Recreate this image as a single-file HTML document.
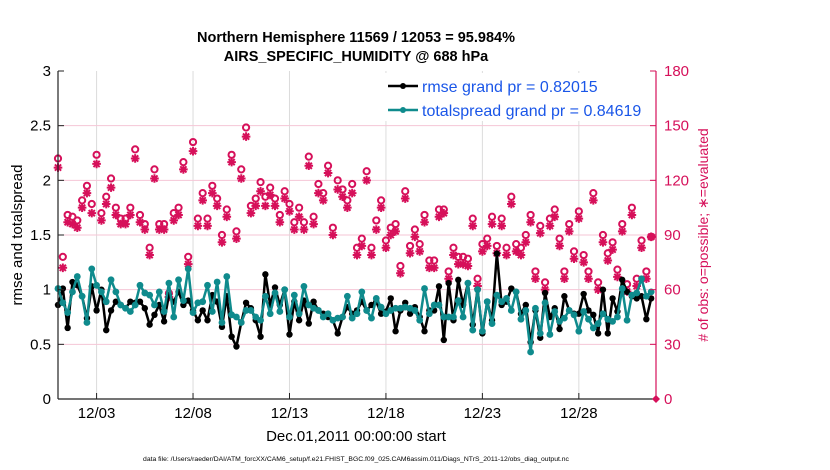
<!DOCTYPE html>
<html><head><meta charset="utf-8"><style>
body{margin:0;background:#fff;}
svg{display:block;font-family:"Liberation Sans",Arial,sans-serif;}
</style></head><body>
<svg id="chart" width="830" height="470" viewBox="0 0 830 470">
<rect width="830" height="470" fill="#fff"/>
<text x="356" y="42" text-anchor="middle" font-size="14.5" font-weight="bold">Northern Hemisphere 11569 / 12053 = 95.984%</text>
<text x="356" y="61" text-anchor="middle" font-size="14.5" font-weight="bold">AIRS_SPECIFIC_HUMIDITY @ 688 hPa</text>
<g id="grid"></g>
<g id="series"></g>
<g id="axes"></g>
<text transform="translate(22,235) rotate(-90)" text-anchor="middle" font-size="15">rmse and totalspread</text>
<text transform="translate(708,235) rotate(-90)" text-anchor="middle" font-size="14" fill="#d6105a"># of obs: o=possible; ∗=evaluated</text>
<text x="356" y="441" text-anchor="middle" font-size="15">Dec.01,2011 00:00:00 start</text>
<text x="356" y="461" text-anchor="middle" font-size="6.8">data file: /Users/raeder/DAI/ATM_forcXX/CAM6_setup/f.e21.FHIST_BGC.f09_025.CAM6assim.011/Diags_NTrS_2011-12/obs_diag_output.nc</text>
<g>
<rect x="383" y="73" width="262" height="48" fill="#fff"/>
<line x1="388" y1="86" x2="418" y2="86" stroke="#000" stroke-width="2.5"/>
<circle cx="403" cy="86" r="3" fill="#000"/>
<text x="422" y="92" font-size="16" fill="#1a56e8">rmse grand pr = 0.82015</text>
<line x1="388" y1="110" x2="418" y2="110" stroke="#0f8b8d" stroke-width="2.5"/>
<circle cx="403" cy="110" r="3" fill="#0f8b8d"/>
<text x="422" y="116" font-size="16" fill="#1a56e8">totalspread grand pr = 0.84619</text>
</g>
</svg>
<script>
const xTickLabels = ["12/03","12/08","12/13","12/18","12/23","12/28"];
const xTickDays = [2,7,12,17,22,27];
const leftTicks = [0,0.5,1,1.5,2,2.5,3];
const rightTicks = [0,30,60,90,120,150,180];
const stepDays = 0.25;
const rmse = [0.86,1.01,0.65,1.07,1.04,0.94,0.74,1.03,0.81,1.0,0.63,0.81,0.89,0.86,0.83,0.89,0.88,0.89,0.83,0.68,0.77,0.86,0.71,0.95,0.89,0.98,0.86,0.9,0.81,0.72,0.81,0.72,0.95,0.89,0.66,0.94,0.57,0.48,0.7,0.88,0.83,0.72,0.57,
1.14,0.86,1.02,0.86,1.0,0.59,0.89,0.72,0.9,0.69,0.89,0.81,0.78,0.75,0.72,0.6,0.75,0.84,0.78,0.81,0.89,0.81,0.86,0.89,0.78,0.8,0.92,0.62,0.81,0.88,0.78,0.84,0.75,0.62,0.81,0.81,1.03,0.54,1.06,0.72,1.09,
0.86,1.06,0.68,1.0,0.6,0.89,0.72,1.33,0.86,0.89,1.01,0.98,0.78,0.86,0.52,0.81,0.56,0.97,0.75,0.83,0.64,0.94,0.81,0.78,0.78,0.96,0.81,0.77,0.6,1.0,0.6,0.92,0.8,1.09,0.98,0.94,0.92,0.94,0.73,0.92];
const spread = [1.01,0.88,0.79,0.98,1.12,0.94,0.7,1.19,1.04,0.98,0.89,1.09,0.98,0.86,0.83,0.8,0.86,1.04,0.97,0.95,0.86,0.98,0.8,1.06,0.75,1.09,0.9,1.19,0.79,0.88,0.89,1.04,0.8,1.07,0.7,1.12,0.77,0.75,0.7,0.81,0.81,0.75,0.72,
0.94,0.78,0.97,0.8,1.0,0.75,0.95,0.78,1.03,0.86,0.83,0.81,0.75,0.78,0.72,0.74,0.75,0.94,0.74,0.78,0.98,0.81,0.74,0.92,0.84,0.78,0.81,0.83,0.83,0.84,0.83,0.81,0.72,1.01,0.78,0.86,0.86,0.75,0.75,0.75,0.9,
0.75,1.06,0.63,1.0,0.62,0.89,0.69,0.95,0.89,0.92,0.81,0.98,0.73,0.81,0.43,0.83,0.6,0.88,0.59,0.8,0.71,0.74,0.81,0.77,0.62,0.8,0.73,0.65,0.69,0.78,0.73,0.71,0.75,1.01,0.72,0.95,0.97,1.1,0.94,0.98];
const possible = [132,78,101,100,98,109,117,107,134,102,111,121,105,99,99,105,137,101,96,83,126,96,96,58,102,105,130,78,141,99,113,99,117,110,90,104,134,92,126,149,106,110,119,
111,116,110,101,114,107,97,105,97,133,100,118,113,128,94,120,115,109,118,83,88,125,83,98,109,87,94,96,73,114,84,93,85,101,76,76,104,104,70,83,78,
78,77,99,66,85,88,100,84,99,83,111,85,83,90,101,70,95,64,99,104,88,70,96,81,103,79,70,113,64,90,80,86,71,96,63,105,66,87,70,89];
const evaluated = [127,72,97,96,94,105,113,102,129,98,107,116,101,96,96,101,132,97,93,79,121,93,93,56,98,101,126,74,136,95,109,95,113,106,86,100,130,88,121,144,102,106,114,
106,112,106,97,110,103,93,100,93,128,96,113,109,124,90,115,111,105,113,79,84,120,79,93,105,83,90,92,69,110,80,89,81,97,72,72,100,102,66,79,74,
74,73,95,62,81,84,96,80,95,79,107,81,79,86,97,66,91,60,95,100,84,66,92,77,99,75,66,109,60,86,76,82,67,92,59,101,62,83,66,89];

const NS="http://www.w3.org/2000/svg";
const L=58,R=656,T=71,B=399;
const xS=d=>L+(d/31)*(R-L);
const yL=v=>B-(v/3)*(B-T);
const yR=v=>B-(v/180)*(B-T);
function mk(tag,attrs,parent){const e=document.createElementNS(NS,tag);for(const k in attrs)e.setAttribute(k,attrs[k]);parent.appendChild(e);return e;}
const grid=document.getElementById('grid'),series=document.getElementById('series'),axes=document.getElementById('axes');
const PINK="#d6105a",TEAL="#0f8b8d";
xTickDays.forEach((d,i)=>{
  const g=mk('line',{x1:xS(d),x2:xS(d),y1:T,y2:B,stroke:'#dcdcdc','stroke-width':1},grid);
  
  
  const t=mk('line',{x1:xS(d),x2:xS(d),y1:B,y2:B-6,stroke:'#222','stroke-width':1},axes);
  
  
  const lb=mk('text',{x:xS(d),y:B+19,'text-anchor':'middle','font-size':15},axes);
  lb.textContent=xTickLabels[i];
  
  
});
leftTicks.forEach(v=>{
  if(v>0&&v<3){const g=mk('line',{x1:L,x2:R,y1:yL(v),y2:yL(v),stroke:'#f5c6d6','stroke-width':1},grid);
  
  }
  const t=mk('line',{x1:L,x2:L+6,y1:yL(v),y2:yL(v),stroke:'#222'},axes);
  
  
  const lb=mk('text',{x:L-7,y:yL(v)+5,'text-anchor':'end','font-size':15},axes);
  lb.textContent=String(v);
  
  
});
rightTicks.forEach(v=>{
  const t=mk('line',{x1:R-6,x2:R,y1:yR(v),y2:yR(v),stroke:PINK},axes);
  
  
  const lb=mk('text',{x:R+8,y:yR(v)+5,'font-size':15,fill:PINK},axes);
  lb.textContent=String(v);
  
  
});
let a=mk('line',{x1:L,x2:L,y1:T,y2:B,stroke:'#222','stroke-width':1.2},axes);


a=mk('line',{x1:L,x2:R,y1:B,y2:B,stroke:'#222','stroke-width':1.2},axes);


a=mk('line',{x1:R,x2:R,y1:T,y2:B,stroke:PINK,'stroke-width':1.2},axes);


a=mk('path',{d:`M${R-4},${B}L${R},${B-4}L${R+4},${B}L${R},${B+4}Z`,fill:PINK},axes);



possible.forEach((v,i)=>{
  const c=mk('circle',{cx:xS(i*stepDays),cy:yR(v),r:3.1,fill:'none',stroke:PINK,'stroke-width':2},series);
  
  
});
evaluated.forEach((v,i)=>{
  const x=xS(i*stepDays),y=yR(v),s=4.3,d=3.1;
  const p=mk('path',{d:`M${x-s},${y}H${x+s}M${x},${y-s}V${y+s}M${x-d},${y-d}L${x+d},${y+d}M${x-d},${y+d}L${x+d},${y-d}`,stroke:PINK,'stroke-width':2},series);
  
  
});
function line(vals,color,name,r){
  const pts=vals.map((v,i)=>xS(i*stepDays)+','+yL(v)).join(' ');
  const pl=mk('polyline',{points:pts,fill:'none',stroke:color,'stroke-width':2.5,'stroke-linejoin':'round'},series);
  
  
  vals.forEach((v,i)=>{
    const c=mk('circle',{cx:xS(i*stepDays),cy:yL(v),r:r,fill:color},series);
    
    
  });
}
line(rmse,'#000','rmse',3.2);
line(spread,TEAL,'totalspread',3.4);
</script>
</body></html>
